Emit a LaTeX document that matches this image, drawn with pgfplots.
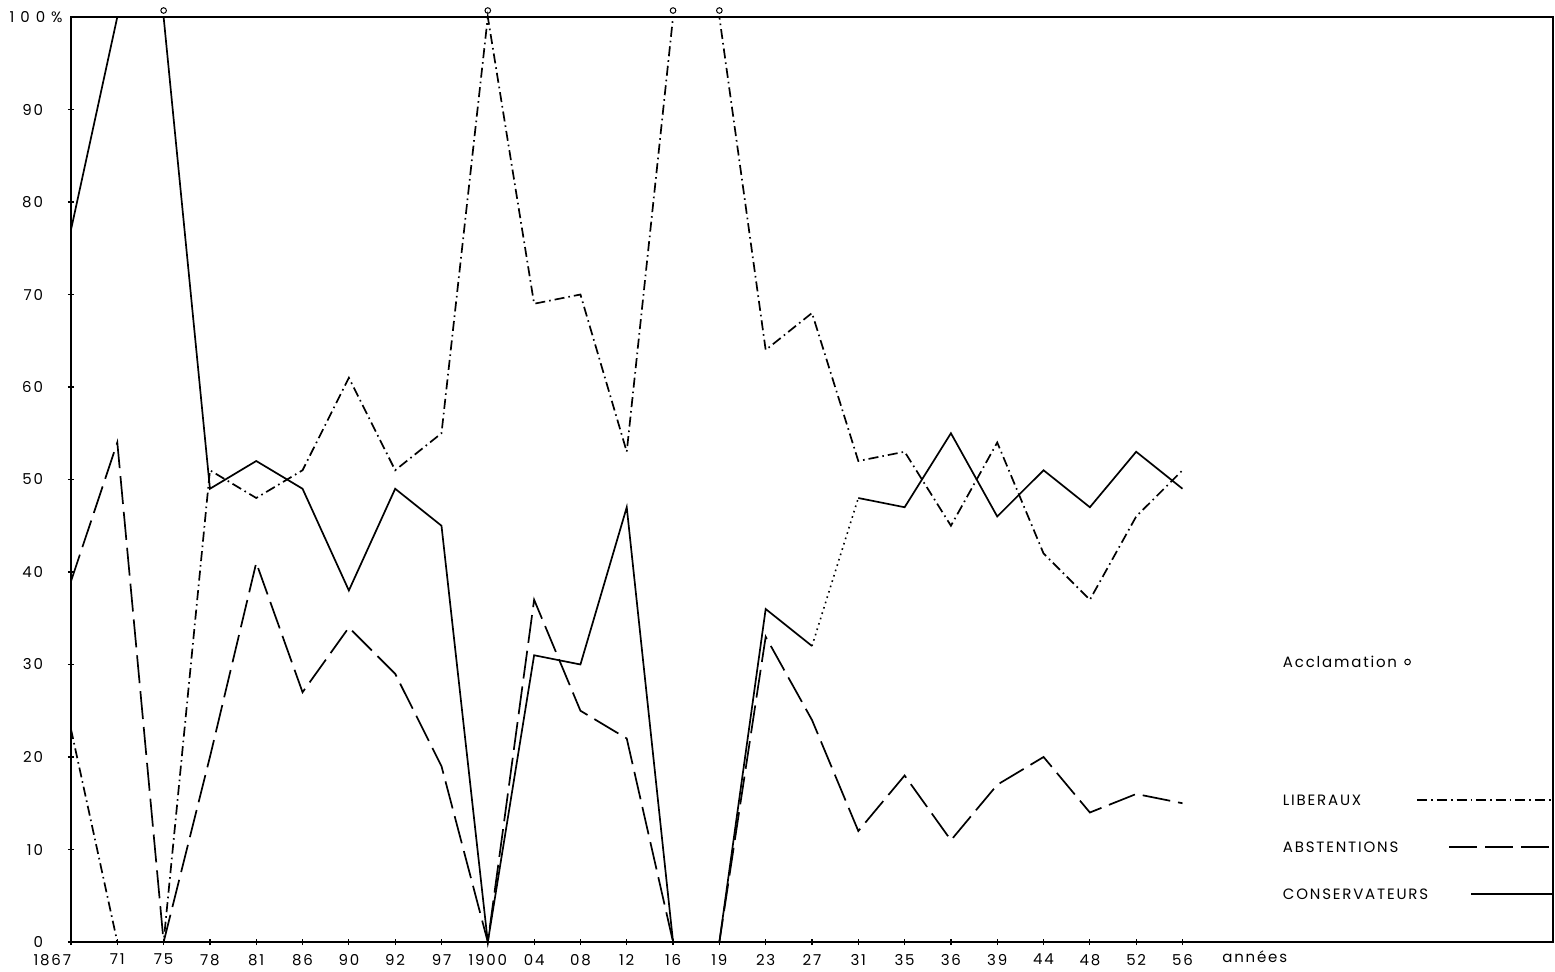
\documentclass[border=0pt]{standalone}
\usepackage{pgfplots}
\pgfplotsset{compat=1.18}
\usepackage{fontspec}
\setmainfont[LetterSpace=12]{Poppins}
\begin{document}
\begin{tikzpicture}
\useasboundingbox (-35.5pt,-14.5pt) rectangle (742pt,471pt);
\begin{axis}[
  at={(0pt,0pt)}, anchor=south west,
  scale only axis, width=741pt, height=462.5pt,
  xmin=0, xmax=32, ymin=0, ymax=100,
  clip=false,
  axis line style={line width=0.9pt},
  xtick={0,...,24},
  xticklabels={\makebox[0pt][r]{1867},71,75,78,81,86,90,92,97,1900,04,08,12,16,19,23,27,31,35,36,39,44,48,52,56},
  extra x ticks={25.56},
  extra x tick labels={années},
  extra x tick style={major tick length=0pt},
  ytick={0,10,...,90},
  tick align=center,
  major tick length=3pt,
  tick style={black, line width=0.6pt},
  xtick pos=bottom, ytick pos=left,
  /pgf/number format/assume math mode=true,
  ticklabel style={font=\fontsize{7.5}{9}\selectfont},
  xticklabel style={yshift=-1pt},
  yticklabel style={xshift=-9pt},
]
% LIBERAUX
\addplot[black, line width=0.85pt, dash pattern=on 5pt off 2pt on 0.8pt off 2pt] coordinates {
(0,23)(1,0)(2,0)(3,51)(4,48)(5,51)(6,61)(7,51)(8,55)(9,100)(10,69)(11,70)(12,53)
(13,100)(14,100)(15,64)(16,68)(17,52)(18,53)(19,45)(20,54)(21,42)(22,37)(23,46)(24,51)};
% ABSTENTIONS
\addplot[black, line width=0.85pt, dash pattern=on 14pt off 4pt] coordinates {
(0,39)(1,54)(2,0)(3,20)(4,41)(5,27)(6,34)(7,29)(8,19)(9,0)(10,37)(11,25)(12,22)
(13,0)(14,0)(15,33)(16,24)(17,12)(18,18)(19,11)(20,17)(21,20)(22,14)(23,16)(24,15)};
% CONSERVATEURS
\addplot[black, line width=0.85pt] coordinates {
(0,77)(1,100)(2,100)(3,49)(4,52)(5,49)(6,38)(7,49)(8,45)(9,0)(10,31)(11,30)(12,47)
(13,0)(14,0)(15,36)(16,32)};
\addplot[black, line width=0.8pt, dotted] coordinates {(16,32)(17,48)};
\addplot[black, line width=0.85pt] coordinates {
(17,48)(18,47)(19,55)(20,46)(21,51)(22,47)(23,53)(24,49)};
% Acclamation
\addplot[black, only marks, mark=o, mark size=1.4pt, mark options={line width=0.5pt}] coordinates {
(2,100.7)(9,100.7)(13,100.7)(14,100.7)};
% 100% label
\node[anchor=east, font=\fontsize{7.5}{9}\selectfont\addfontfeature{LetterSpace=40}, inner sep=0pt] at ([xshift=-4pt]axis cs:0,100) {100\%};
% legend
\node[anchor=west, font=\fontsize{7.5}{9}\selectfont, inner sep=0pt] at (axis cs:26.16,30.27) {Acclamation};
\draw[line width=0.5pt] (axis cs:28.86,30.27) circle[radius=1.4pt];
\node[anchor=west, font=\fontsize{7.5}{9}\selectfont, inner sep=0pt] at (axis cs:26.16,15.35) {LIBERAUX};
\draw[line width=0.8pt, dash pattern=on 5pt off 2pt on 0.8pt off 2pt] (axis cs:29.07,15.35) -- (axis cs:32,15.35);
\node[anchor=west, font=\fontsize{7.5}{9}\selectfont, inner sep=0pt] at (axis cs:26.16,10.27) {ABSTENTIONS};
\draw[line width=0.8pt, dash pattern=on 14pt off 4pt] (axis cs:29.76,10.27) -- (axis cs:32,10.27);
\node[anchor=west, font=\fontsize{7.5}{9}\selectfont, inner sep=0pt] at (axis cs:26.16,5.19) {CONSERVATEURS};
\draw[line width=0.8pt] (axis cs:30.24,5.19) -- (axis cs:32,5.19);
\end{axis}
\end{tikzpicture}
\end{document}
